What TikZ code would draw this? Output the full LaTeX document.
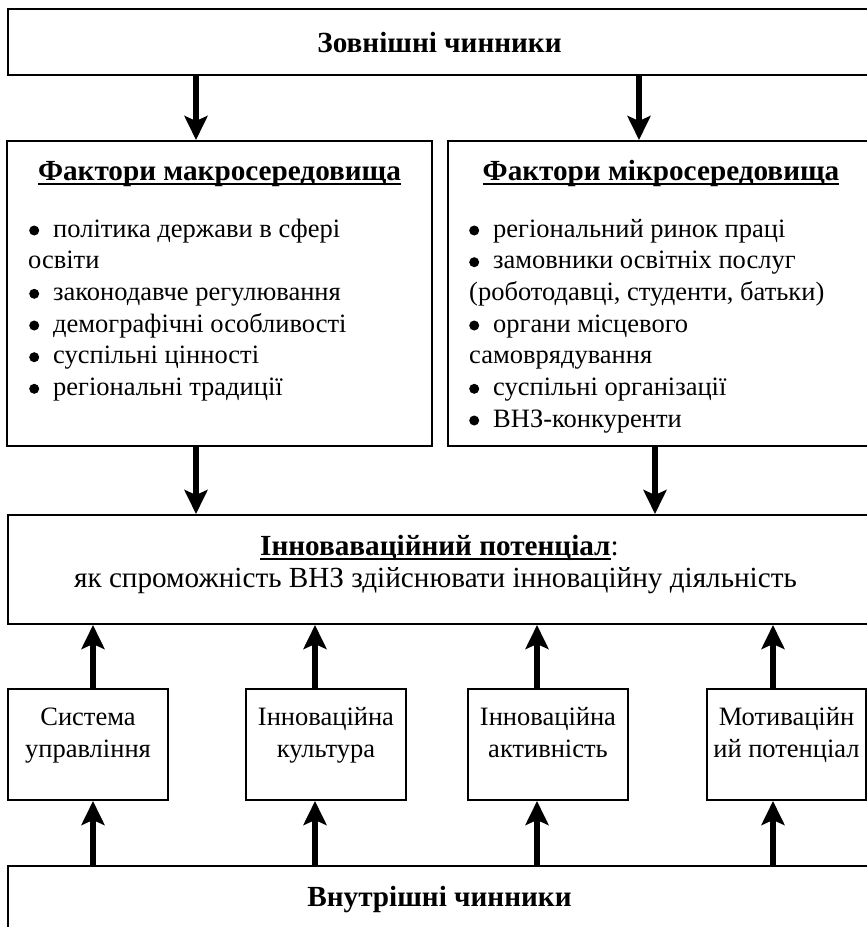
\documentclass[tikz,border=0pt]{standalone}
\usepackage{fontspec}
\setmainfont{Liberation Serif}
\usetikzlibrary{arrows.meta}

% underline drawn as a rule just below the baseline
\newlength\ulwd
\newcommand\ulined[1]{\settowidth\ulwd{#1}\rlap{\rule[-5pt]{\ulwd}{2.5pt}}#1}
% round bullet followed by a fixed gap
\newcommand\bul{\makebox[25pt][l]{\hspace{1pt}\raisebox{1.5pt}{\tikz\fill (0,0) circle [radius=5pt];}}}

\begin{document}
\begin{tikzpicture}[x=1pt,y=-1pt,
  box/.style={draw, line width=2pt, inner sep=0pt},
  rmtext/.style={inner sep=0pt, font=\fontsize{26.5}{31}\selectfont},
  bigtext/.style={inner sep=0pt, font=\fontsize{29.2}{32}\selectfont},
  bftext/.style={inner sep=0pt, font=\fontsize{29.2}{32}\selectfont\bfseries},
  arr/.style={line width=6.8pt, -{Stealth[length=24pt, width=23pt, inset=5pt]}}]

\useasboundingbox (0,0) rectangle (867,927);
\clip (0,0) rectangle (867,927);

% boxes
\node[box, minimum width=863pt, minimum height=66pt]  (outer) at (439.5,42) {};
\node[box, minimum width=425pt, minimum height=305pt] (macro) at (219.5,293.5) {};
\node[box, minimum width=426pt, minimum height=305pt] (micro) at (661,293.5) {};
\node[box, minimum width=863pt, minimum height=109pt] (innov) at (439.5,569.5) {};
\node[box, minimum width=160pt, minimum height=111pt] (sb1) at (88,744.5) {};
\node[box, minimum width=160pt, minimum height=111pt] (sb2) at (326,744.5) {};
\node[box, minimum width=160pt, minimum height=111pt] (sb3) at (548,744.5) {};
\node[box, minimum width=159pt, minimum height=111pt] (sb4) at (786.5,744.5) {};
\node[box, minimum width=863pt, minimum height=94pt]  (inner) at (439.5,913) {};

% texts
\node[bftext, anchor=base] (tout) at (439.5,52) {Зовнішні чинники};

\node[bftext, anchor=base] (tmac) at (219.5,180) {\ulined{Фактори макросередовища}};
\node[rmtext, anchor=base west] (m1) at (28,237)   {\bul політика держави в сфері};
\node[rmtext, anchor=base west] (m2) at (28,268.7) {освіти};
\node[rmtext, anchor=base west] (m3) at (28,300.3) {\bul законодавче регулювання};
\node[rmtext, anchor=base west] (m4) at (28,332)   {\bul демографічні особливості};
\node[rmtext, anchor=base west] (m5) at (28,363.7) {\bul суспільні цінності};
\node[rmtext, anchor=base west] (m6) at (28,395.3) {\bul регіональні традиції};

\node[bftext, anchor=base] (tmic) at (661,180) {\ulined{Фактори мікросередовища}};
\node[rmtext, anchor=base west] (r1) at (468,237)   {\bul регіональний ринок праці};
\node[rmtext, anchor=base west] (r2) at (468,268.7) {\bul замовники освітніх послуг};
\node[rmtext, anchor=base west] (r3) at (469,300.3) {(роботодавці, студенти, батьки)};
\node[rmtext, anchor=base west] (r4) at (468,332)   {\bul органи місцевого};
\node[rmtext, anchor=base west] (r5) at (469,363.7) {самоврядування};
\node[rmtext, anchor=base west] (r6) at (468,395.3) {\bul суспільні організації};
\node[rmtext, anchor=base west] (r7) at (468,427)   {\bul ВНЗ-конкуренти};

\node[bigtext, anchor=base] (tinn1) at (439.5,555) {\textbf{\ulined{Інноваваційний потенціал}}:};
\node[bigtext, anchor=base] (tinn2) at (435.5,587) {як спроможність ВНЗ здійснювати інноваційну діяльність};

\node[rmtext, anchor=base] (s1a) at (88,725) {Система};
\node[rmtext, anchor=base] (s1b) at (88,757) {управління};
\node[rmtext, anchor=base] (s2a) at (326,725) {Інноваційна};
\node[rmtext, anchor=base] (s2b) at (326,757) {культура};
\node[rmtext, anchor=base] (s3a) at (548,725) {Інноваційна};
\node[rmtext, anchor=base] (s3b) at (548,757) {активність};
\node[rmtext, anchor=base] (s4a) at (786.5,725) {Мотиваційн};
\node[rmtext, anchor=base] (s4b) at (786.5,757) {ий потенціал};

\node[bftext, anchor=base] (tin) at (439.5,906) {Внутрішні чинники};

% arrow columns
\coordinate (xa) at (196,0);
\coordinate (xb) at (639,0);
\coordinate (xc) at (655,0);
\coordinate (u1) at (93,0);
\coordinate (u2) at (315,0);
\coordinate (u3) at (537,0);
\coordinate (u4) at (773,0);

% arrows
\draw[arr] (outer.south -| xa) -- (macro.north -| xa);
\draw[arr] (outer.south -| xb) -- (micro.north -| xb);
\draw[arr] (macro.south -| xa) -- (innov.north -| xa);
\draw[arr] (micro.south -| xc) -- (innov.north -| xc);
\foreach \i in {1,2,3,4} {
  \draw[arr] (sb\i.north -| u\i) -- (innov.south -| u\i);
  \draw[arr] (inner.north -| u\i) -- (sb\i.south -| u\i);
}
\end{tikzpicture}
\end{document}
